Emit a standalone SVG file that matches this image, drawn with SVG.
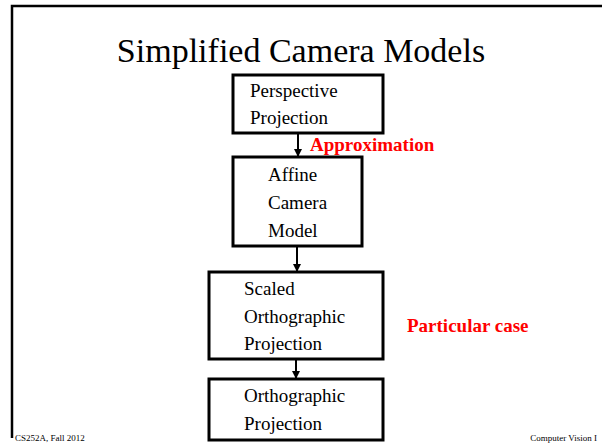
<svg xmlns="http://www.w3.org/2000/svg" width="602" height="447" viewBox="0 0 602 447">
<style>
.box{fill:#fff;stroke:#000;stroke-width:3}
.t{font-family:"Liberation Serif","Times New Roman",serif;font-size:19px;fill:#000}
.red{font-family:"Liberation Serif","Times New Roman",serif;font-size:19px;font-weight:bold;fill:#ff0000}
.foot{font-family:"Liberation Serif","Times New Roman",serif;font-size:9px;fill:#000}
.conn{stroke:#000;stroke-width:2;fill:none}
</style>
<defs>
<marker id="ah" viewBox="0 0 10 10" refX="10" refY="5" markerWidth="4" markerHeight="4" orient="auto" markerUnits="strokeWidth">
<path d="M0,0 L10,5 L0,10 z" fill="#000"/>
</marker>
</defs>
<rect width="602" height="447" fill="#fff"/>
<path d="M12,438 V6 H602" fill="none" stroke="#000" stroke-width="2.5"/>
<text x="301" y="62" text-anchor="middle" font-family="Liberation Serif, Times New Roman, serif" font-size="34">Simplified Camera Models</text>
<g id="connectors">
<line class="conn" x1="298" y1="133" x2="298" y2="157" marker-end="url(#ah)"/>
<line class="conn" x1="297" y1="246" x2="297" y2="272" marker-end="url(#ah)"/>
<line class="conn" x1="296" y1="359" x2="296" y2="379" marker-end="url(#ah)"/>
</g>
<g id="perspective">
<rect class="box" x="233" y="75" width="150" height="58"/>
<text class="t" x="250" y="97">Perspective</text>
<text class="t" x="250" y="124">Projection</text>
</g>
<g id="affine">
<rect class="box" x="233" y="157" width="129" height="89"/>
<text class="t" x="268" y="181">Affine</text>
<text class="t" x="268" y="209">Camera</text>
<text class="t" x="268" y="237">Model</text>
</g>
<g id="scaled">
<rect class="box" x="209" y="272" width="174" height="87"/>
<text class="t" x="244" y="295">Scaled</text>
<text class="t" x="244" y="323">Orthographic</text>
<text class="t" x="244" y="350">Projection</text>
</g>
<g id="ortho">
<rect class="box" x="209" y="379" width="174" height="61"/>
<text class="t" x="244" y="402">Orthographic</text>
<text class="t" x="244" y="430">Projection</text>
</g>
<text class="red" x="310" y="151">Approximation</text>
<text class="red" x="407" y="332">Particular case</text>
<text class="foot" x="15" y="441">CS252A, Fall 2012</text>
<text class="foot" x="597" y="441" text-anchor="end">Computer Vision I</text>
</svg>
